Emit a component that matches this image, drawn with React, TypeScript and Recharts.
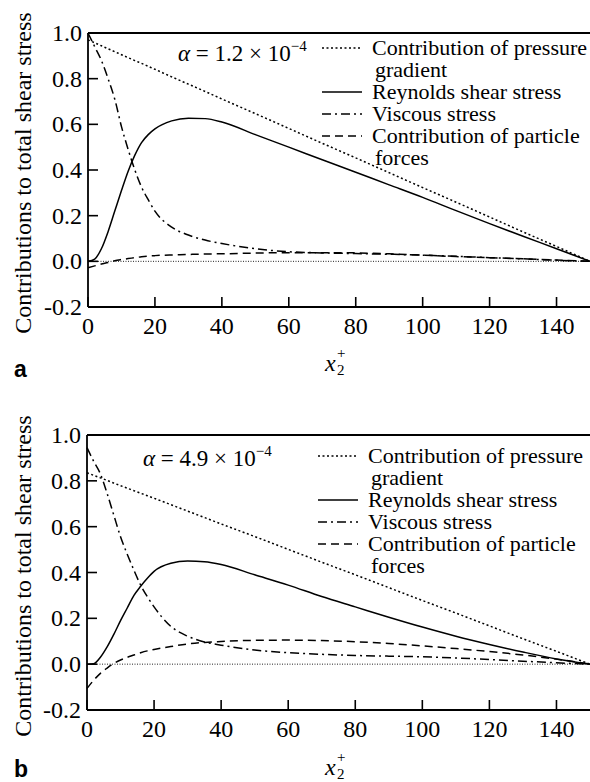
import { LineChart, Line, XAxis, YAxis, ReferenceLine } from "recharts";

const FONT = '"Liberation Serif", "Times New Roman", Times, serif';
const W = 590;
const H = 391;

// wall distance x2+ where every curve is sampled
const xPlus = [0, 2, 4, 6, 8, 10, 12, 14, 16, 18, 20, 25, 30, 35, 40, 50, 60, 70, 80, 90, 100, 110, 120, 130, 140, 150];

// panel a, alpha = 1.2e-4
const pressureA = [0.97, 0.957, 0.944, 0.931, 0.918, 0.905, 0.892, 0.879, 0.867, 0.854, 0.841, 0.808, 0.776, 0.744, 0.711, 0.647, 0.582, 0.517, 0.453, 0.388, 0.323, 0.259, 0.194, 0.129, 0.065, 0];
const reynoldsA = [0, 0.01, 0.055, 0.13, 0.22, 0.31, 0.395, 0.465, 0.52, 0.555, 0.58, 0.615, 0.627, 0.625, 0.61, 0.555, 0.5, 0.445, 0.39, 0.335, 0.28, 0.222, 0.165, 0.11, 0.055, 0];
const viscousA = [1.0, 0.94, 0.88, 0.8, 0.71, 0.59, 0.49, 0.4, 0.325, 0.27, 0.22, 0.15, 0.115, 0.093, 0.078, 0.055, 0.042, 0.037, 0.034, 0.031, 0.027, 0.022, 0.016, 0.011, 0.005, 0];
const particleA = [-0.028, -0.02, -0.012, -0.005, 0.003, 0.008, 0.012, 0.016, 0.02, 0.023, 0.025, 0.028, 0.03, 0.032, 0.033, 0.036, 0.038, 0.038, 0.037, 0.033, 0.027, 0.021, 0.016, 0.011, 0.006, 0];

// panel b, alpha = 4.9e-4
const pressureB = [0.835, 0.824, 0.813, 0.802, 0.79, 0.779, 0.768, 0.757, 0.746, 0.735, 0.724, 0.696, 0.668, 0.64, 0.612, 0.557, 0.501, 0.445, 0.39, 0.334, 0.278, 0.223, 0.167, 0.111, 0.056, 0];
const reynoldsB = [0, 0.002, 0.03, 0.075, 0.13, 0.19, 0.245, 0.3, 0.34, 0.375, 0.405, 0.44, 0.45, 0.447, 0.435, 0.39, 0.345, 0.295, 0.25, 0.205, 0.162, 0.122, 0.086, 0.053, 0.023, 0];
const viscousB = [0.945, 0.885, 0.83, 0.745, 0.65, 0.556, 0.48, 0.41, 0.345, 0.294, 0.25, 0.165, 0.122, 0.097, 0.083, 0.062, 0.05, 0.043, 0.038, 0.035, 0.032, 0.027, 0.02, 0.013, 0.006, 0];
const particleB = [-0.106, -0.07, -0.04, -0.017, 0.003, 0.018, 0.03, 0.04, 0.05, 0.058, 0.064, 0.077, 0.088, 0.095, 0.099, 0.104, 0.105, 0.103, 0.098, 0.09, 0.08, 0.068, 0.055, 0.04, 0.022, 0];

const xTicks = [0, 20, 40, 60, 80, 100, 120, 140];
const yTicks = [-0.2, 0, 0.2, 0.4, 0.6, 0.8, 1.0];

const seriesKeys = ["pressure", "reynolds", "viscous", "particle"];
const seriesNames = [
  ["Contribution of pressure", "gradient"],
  ["Reynolds shear stress"],
  ["Viscous stress"],
  ["Contribution of particle", "forces"],
];
const seriesDash: (string | undefined)[] = ["2 2.5", undefined, "9 4 2 4", "8 5"];

type Row = { x: number; pressure: number; reynolds: number; viscous: number; particle: number };

const buildRows = (p: number[], r: number[], v: number[], f: number[]): Row[] =>
  xPlus.map((x, i) => ({ x, pressure: p[i], reynolds: r[i], viscous: v[i], particle: f[i] }));

const rowsA = buildRows(pressureA, reynoldsA, viscousA, particleA);
const rowsB = buildRows(pressureB, reynoldsB, viscousB, particleB);

const TICK_GAP = 6;
const axisStyle = { stroke: "#000", strokeWidth: 1.8 };
const serif = { fontFamily: FONT };

// ticks point into the plot, labels sit outside
const YTick = (props: any) => {
  const { x, y, payload } = props;
  const ax = x + TICK_GAP;
  return (
    <g>
      <line x1={ax} x2={ax + 10} y1={y} y2={y} stroke="#000" strokeWidth={1.6} />
      <text x={x} y={y + 8} textAnchor="end" fontSize={24} style={serif} fill="#000">
        {payload.value.toFixed(1)}
      </text>
    </g>
  );
};

const XTick = (props: any) => {
  const { x, y, payload } = props;
  return (
    <g>
      <line x1={x} x2={x} y1={y} y2={y - 10} stroke="#000" strokeWidth={1.6} />
      <text x={x} y={y + 27} textAnchor="middle" fontSize={24} style={serif} fill="#000">
        {payload.value}
      </text>
    </g>
  );
};

type PanelProps = {
  rows: Row[];
  alpha: string;
  letter: string;
  plotTop: number;
  plotBottom: number;
  axisX: number;
  alphaAt: [number, number];
  legendAt: [number, number];
  letterY: number;
  xLabelY: number;
  yLabelY: number;
};

function Panel(p: PanelProps) {
  let line = 0;
  return (
    <div style={{ position: "relative", width: W, height: H }}>
      <LineChart width={W} height={H} data={p.rows} margin={{ top: p.plotTop, right: 0, bottom: 0, left: 0 }}>
        <XAxis
          dataKey="x"
          type="number"
          domain={[0, 150]}
          ticks={xTicks}
          interval={0}
          height={H - p.plotBottom}
          tickSize={0}
          tickMargin={0}
          axisLine={axisStyle}
          tick={XTick}
        />
        <YAxis
          type="number"
          domain={[-0.2, 1.0]}
          ticks={yTicks}
          interval={0}
          width={p.axisX}
          tickSize={0}
          tickMargin={TICK_GAP}
          axisLine={axisStyle}
          tick={YTick}
        />
        <ReferenceLine y={1} stroke="#000" strokeWidth={1.8} />
        <ReferenceLine y={0} stroke="#222" strokeWidth={1} strokeDasharray="1 1.5" />
        {seriesKeys.map((k, i) => (
          <Line
            key={k}
            dataKey={k}
            type="monotone"
            stroke="#000"
            strokeWidth={1.5}
            strokeDasharray={seriesDash[i]}
            dot={false}
            isAnimationActive={false}
          />
        ))}
      </LineChart>
      <svg
        width={W}
        height={H}
        style={{ position: "absolute", left: 0, top: 0, pointerEvents: "none", fontFamily: FONT }}
      >
        <text
          x={31}
          y={p.yLabelY}
          transform={`rotate(-90, 31, ${p.yLabelY})`}
          textAnchor="middle"
          fontSize={24}
        >
          Contributions to total shear stress
        </text>
        <text x={p.alphaAt[0]} y={p.alphaAt[1]} fontSize={23}>
          <tspan fontStyle="italic">α</tspan>
          {` = ${p.alpha} × 10`}
          <tspan fontSize={15} dy={-10}>−4</tspan>
        </text>
        {seriesNames.map((lines, i) => {
          const base = p.legendAt[1] + line * 22;
          line += lines.length;
          const sx = p.legendAt[0];
          return (
            <g key={i}>
              <line
                x1={sx}
                x2={sx + 40}
                y1={base - 7}
                y2={base - 7}
                stroke="#000"
                strokeWidth={1.4}
                strokeDasharray={seriesDash[i]}
              />
              {lines.map((t, j) => (
                <text key={j} x={sx + 50 + (j > 0 ? 3 : 0)} y={base + j * 22} fontSize={22}>
                  {t}
                </text>
              ))}
            </g>
          );
        })}
        <text x={325} y={p.xLabelY} fontSize={24}>
          <tspan fontStyle="italic">x</tspan>
          <tspan x={337} dy={4} fontSize={15}>2</tspan>
          <tspan x={337} dy={-17} fontSize={15}>+</tspan>
        </text>
        <text
          x={14}
          y={p.letterY}
          fontSize={23}
          fontWeight="bold"
          style={{ fontFamily: '"Liberation Sans", Arial, sans-serif' }}
        >
          {p.letter}
        </text>
      </svg>
    </div>
  );
}

export default function App() {
  return (
    <div style={{ position: "absolute", left: 0, top: 0, width: W, height: 782, background: "#fff" }}>
      <Panel
        rows={rowsA}
        alpha="1.2"
        letter="a"
        plotTop={33}
        plotBottom={307}
        axisX={88}
        alphaAt={[178, 61]}
        legendAt={[322, 55]}
        letterY={377}
        xLabelY={371}
        yLabelY={173}
      />
      <Panel
        rows={rowsB}
        alpha="4.9"
        letter="b"
        plotTop={44}
        plotBottom={319}
        axisX={87}
        alphaAt={[143, 75]}
        legendAt={[318, 72]}
        letterY={386}
        xLabelY={384}
        yLabelY={185}
      />
    </div>
  );
}
